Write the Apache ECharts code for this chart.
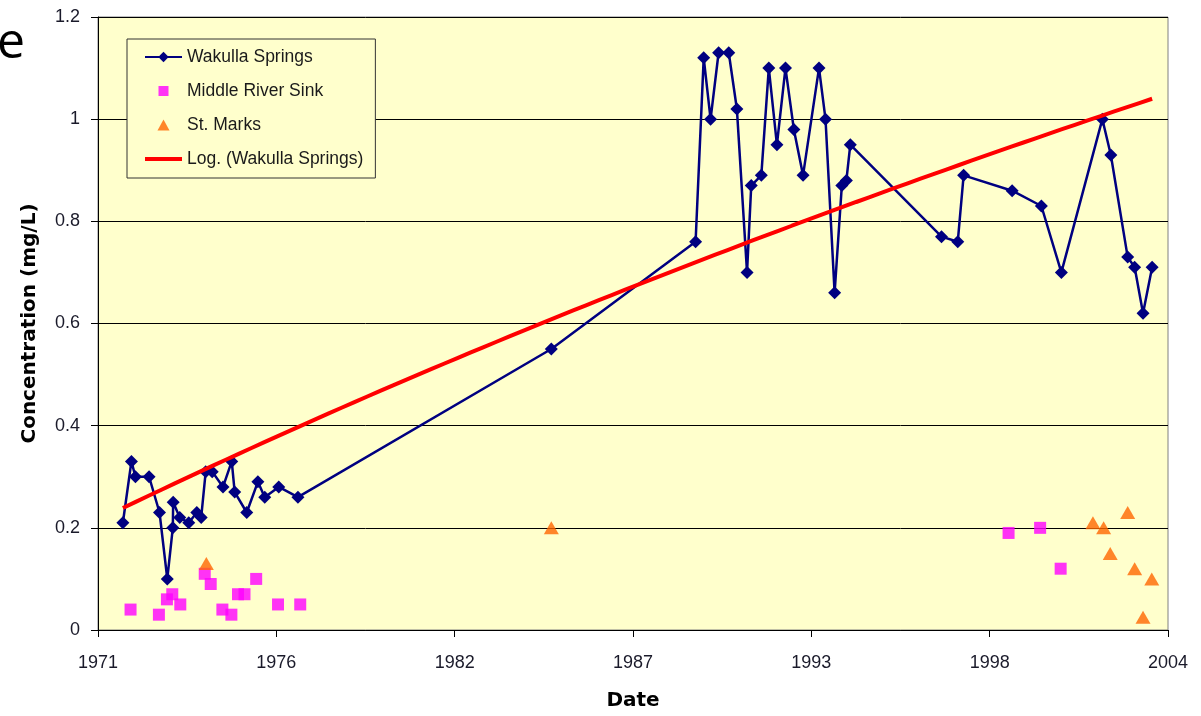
<!DOCTYPE html>
<html>
<head>
<meta charset="utf-8">
<script src="https://cdn.jsdelivr.net/npm/echarts@6/dist/echarts.min.js"></script>
<style>
html,body{margin:0;padding:0;background:#fff;}
#chart{width:1201px;height:716px;}
</style>
</head>
<body>
<div id="chart"></div>
<script>
// Wakulla Springs
var wakullaDates=['1971-12-12','1972-03-17','1972-05-01','1972-10-01','1973-01-26','1973-04-23','1973-06-24','1973-06-28',
	'1973-09-10','1973-12-20','1974-03-20','1974-05-08','1974-06-28','1974-09-09','1975-01-08','1975-04-16','1975-05-19',
	'1975-10-01','1976-02-03','1976-04-20','1976-09-24','1977-04-27','1985-02-06','1989-07-13','1989-10-12','1989-12-28',
	'1990-03-28','1990-07-20','1990-10-19','1991-02-10','1991-03-29','1991-07-20','1991-10-12','1992-01-11','1992-04-16',
	'1992-07-19','1992-10-30','1993-04-27','1993-07-09','1993-10-19','1994-01-08','1994-02-28','1994-04-13','1997-01-30',
	'1997-07-31','1997-10-05','1999-04-02','2000-02-24','2000-10-05','2002-01-08','2002-04-13','2002-10-19','2003-01-05',
	'2003-04-09','2003-07-20']
var wakullaValues=[0.21,0.33,0.30,0.30,0.23,0.10,0.20,0.25,
	0.22,0.21,0.23,0.22,0.31,0.31,0.28,0.33,0.27,
	0.23,0.29,0.26,0.28,0.26,0.55,0.76,1.12,1.00,
	1.13,1.13,1.02,0.70,0.87,0.89,1.10,0.95,1.10,
	0.98,0.89,1.10,1.00,0.66,0.87,0.88,0.95,0.77,
	0.76,0.89,0.86,0.83,0.70,1.00,0.93,0.73,0.71,
	0.62,0.71]
// Middle River Sink
var sinkDates=['1972-03-07','1973-01-19','1973-04-19','1973-06-18','1973-09-16','1974-06-17','1974-08-23','1975-01-01',
	'1975-04-12','1975-06-25','1975-09-06','1976-01-15','1976-09-16','1977-05-23','1999-02-21','2000-02-10','2000-09-27']
var sinkValues=[0.04,0.03,0.06,0.07,0.05,0.11,0.09,0.04,
	0.03,0.07,0.07,0.10,0.05,0.05,0.19,0.20,0.12]
// St. Marks
var marksDates=['1974-07-05','1985-02-06','2001-09-24','2002-01-22','2002-04-06','2002-10-19','2003-01-05','2003-04-09','2003-07-16']
var marksValues=[0.13,0.20,0.21,0.20,0.15,0.23,0.12,0.025,0.10]

var yearTicks=[1971,1976,1982,1987,1993,1998,2004]
var yTicks=['0','0.2','0.4','0.6','0.8','1','1.2']

// excel style day number
function serial(d){
	var p=d.split('-')
	return (Date.UTC(+p[0],+p[1]-1,+p[2])-Date.UTC(1899,11,30))/86400000
}
function pairs(dates,vals){
	var out=[]
	for(var i=0;i<dates.length;i++){
		out.push([serial(dates[i]),vals[i]])
	}
	return out
}
var wakulla=pairs(wakullaDates,wakullaValues)
var sink=pairs(sinkDates,sinkValues)
var marks=pairs(marksDates,marksValues)

// log trendline y = a*ln(x)+b, least squares on the Wakulla points
var n=wakulla.length,sx=0,sy=0,sxx=0,sxy=0
for(var i=0;i<n;i++){
	var lx=Math.log(wakulla[i][0])
	sx+=lx;sy+=wakulla[i][1];sxx+=lx*lx;sxy+=lx*wakulla[i][1]
}
var a=(n*sxy-sx*sy)/(n*sxx-sx*sx)
var b=(sy-a*sx)/n
var x0=wakulla[0][0],x1=wakulla[n-1][0]
var trend=[]
for(var k=0;k<=80;k++){
	var xv=x0+(x1-x0)*k/80
	trend.push([xv,a*Math.log(xv)+b])
}

var mychart=echarts.init(document.getElementById('chart'))
var option={
	animation:false,
	backgroundColor:'#ffffff',
	textStyle:{fontFamily:'Liberation Sans'},
	graphic:[{
		type:'text',left:-3,top:19,
		style:{text:'e',fontSize:50,fontFamily:'Open Sans',fill:'#000'}
	}],
	grid:{
		left:98,right:33,top:17,bottom:82,
		show:true,backgroundColor:'#FFFFCC',borderColor:'#808080',borderWidth:1
	},
	legend:{
		orient:'vertical',left:127,top:39,
		backgroundColor:'#FFFFCC',borderColor:'#333333',borderWidth:1,
		padding:[9,12,10,17],
		itemWidth:37,itemHeight:13,itemGap:16,
		textStyle:{fontSize:17.5,color:'#1a1a1a',fontFamily:'Liberation Sans'},
		data:[
			{name:'Wakulla Springs'},
			{name:'Middle River Sink',icon:'path://M-1.5,-1.5M0,0L10,0L10,10L0,10ZM11.5,11.5'},
			{name:'St. Marks',icon:'path://M-1,-1M6,0L12,11L0,11ZM13,12'},
			{name:'Log. (Wakulla Springs)',icon:'path://M0,0L37,0L37,4L0,4Z'}
		]
	},
	xAxis:{
		type:'value',min:26000,max:38000,interval:2000,
		name:'Date',nameLocation:'middle',nameGap:61,
		nameTextStyle:{fontSize:20,fontWeight:'bold',color:'#000',fontFamily:'DejaVu Sans'},
		axisLine:{lineStyle:{color:'#000',width:1}},
		axisTick:{show:true,length:7,lineStyle:{color:'#000'}},
		axisLabel:{
			margin:24,fontSize:18,color:'#1a1a2a',
			formatter:function(v){return yearTicks[Math.round((v-26000)/2000)]}
		},
		splitLine:{show:false}
	},
	yAxis:{
		type:'value',min:0,max:1.2,interval:0.2,
		name:'Concentration (mg/L)',nameLocation:'middle',nameGap:58,nameRotate:90,
		nameTextStyle:{fontSize:20,fontWeight:'bold',color:'#000',fontFamily:'DejaVu Sans'},
		axisLine:{show:true,lineStyle:{color:'#000',width:1}},
		axisTick:{show:true,length:7,lineStyle:{color:'#000'}},
		axisLabel:{
			margin:18,fontSize:18,color:'#1a1a2a',
			formatter:function(v){return yTicks[Math.round(v/0.2)]}
		},
		splitLine:{show:true,lineStyle:{color:'#000',width:1}}
	},
	series:[{
		name:'Wakulla Springs',
		type:'line',
		data:wakulla,
		symbol:'diamond',symbolSize:13,
		lineStyle:{color:'#000080',width:2.5},
		itemStyle:{color:'#000080'},
		z:3
	},{
		name:'Middle River Sink',
		type:'scatter',
		data:sink,
		symbol:'rect',symbolSize:12,
		itemStyle:{color:'#FF00FF'},
		z:2
	},{
		name:'St. Marks',
		type:'scatter',
		data:marks,
		symbol:'triangle',symbolSize:[15,13],
		itemStyle:{color:'#FF6600'},
		z:2
	},{
		name:'Log. (Wakulla Springs)',
		type:'line',
		data:trend,
		symbol:'none',
		lineStyle:{color:'#FF0000',width:4},
		itemStyle:{color:'#FF0000'},
		z:4
	}]
}
mychart.setOption(option)
</script>
</body>
</html>
